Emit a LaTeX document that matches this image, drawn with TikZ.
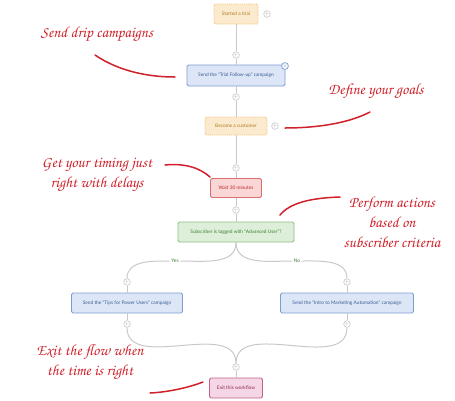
\documentclass[tikz,border=0pt]{standalone}
\usepackage[T1,TU]{fontenc}
\usepackage{fontspec}
\newfontfamily\boxfont{Lato}
\newcommand\handfont{\fontencoding{T1}\fontfamily{pzc}\fontseries{mb}\fontshape{it}\selectfont}
\definecolor{linegray}{HTML}{C8C8C8}
\definecolor{ink}{HTML}{D0202A}
\definecolor{trigfill}{HTML}{FCEACF}
\definecolor{trigline}{HTML}{EFBE6E}
\definecolor{trigtext}{HTML}{B07A20}
\definecolor{sendfill}{HTML}{DCE6F6}
\definecolor{sendline}{HTML}{7C9DD2}
\definecolor{sendtext}{HTML}{3A5C94}
\definecolor{waitfill}{HTML}{FBD6D6}
\definecolor{waitline}{HTML}{DE6E6E}
\definecolor{waittext}{HTML}{B82A2A}
\definecolor{condfill}{HTML}{DDEFD9}
\definecolor{condline}{HTML}{8CC182}
\definecolor{condtext}{HTML}{3E7E32}
\definecolor{exitfill}{HTML}{F5D6E6}
\definecolor{exitline}{HTML}{C2608C}
\definecolor{exittext}{HTML}{8E2858}
\tikzset{
  flowbox/.style={rounded corners=1.5pt, line width=0.9pt, inner sep=1pt,
    font=\boxfont\fontsize{4.8}{5}\selectfont},
  trigger/.style={flowbox, draw=trigline, fill=trigfill, text=trigtext, densely dotted},
  sendbox/.style={flowbox, draw=sendline, fill=sendfill, text=sendtext},
  waitbox/.style={flowbox, draw=waitline, fill=waitfill, text=waittext},
  condbox/.style={flowbox, draw=condline, fill=condfill, text=condtext},
  exitbox/.style={flowbox, draw=exitline, fill=exitfill, text=exittext},
  addpt/.style={circle, draw=linegray, fill=white, line width=0.6pt, minimum size=6.5pt,
    inner sep=0pt, text=gray!70, font=\fontsize{5}{5}\selectfont},
  conn/.style={draw=linegray, line width=1pt},
  branch/.style={font=\boxfont\fontsize{5}{5}\selectfont, text=condtext, fill=white, inner sep=1.5pt},
  note/.style={text=ink, align=center, font=\handfont\fontsize{15.5}{20}\selectfont},
  inkline/.style={draw=ink, line width=1.5pt, line cap=round}
}
\begin{document}
\begin{tikzpicture}[x=1pt, y=-1pt]
\useasboundingbox (0,0) rectangle (455,400);
% flow steps
\node[trigger, minimum width=44pt, minimum height=20pt] (trial) at (236,14) {Started a trial};
\node[addpt] (trialadd) at (267,14) {+};
\node[addpt] (p1) at (236,55) {+};
\node[sendbox, minimum width=98pt, minimum height=21pt] (drip) at (236,75.5) {Send the “Trial Follow-up” campaign};
\node[circle, draw=sendline, fill=white, line width=0.7pt, minimum size=6.5pt, inner sep=0pt,
  text=sendline, font=\fontsize{5}{5}\selectfont] (dripx) at (285,66) {$\times$};
\node[addpt] (p2) at (236,97) {+};
\node[trigger, minimum width=62pt, minimum height=18pt] (customer) at (236,126) {Become a customer};
\node[addpt] (custadd) at (275,126) {+};
\node[addpt] (p3) at (236,168) {+};
\node[waitbox, minimum width=51pt, minimum height=19pt] (wait) at (236,188) {Wait 30 minutes};
\node[addpt] (p4) at (236,210) {+};
\node[condbox, minimum width=116pt, minimum height=20pt] (cond) at (236,232) {Subscriber is tagged with “Advanced User”?};
\node[branch] (yes) at (175,261) {Yes};
\node[branch] (no) at (297,261) {No};
\node[addpt] (pl) at (127,282) {+};
\node[addpt] (pr) at (347,282) {+};
\node[sendbox, minimum width=111pt, minimum height=20pt] (tips) at (127,303) {Send the “Tips for Power Users” campaign};
\node[sendbox, minimum width=133pt, minimum height=20pt] (intro) at (347,303) {Send the “Intro to Marketing Automation” campaign};
\node[addpt] (ql) at (127,324) {+};
\node[addpt] (qr) at (347,324) {+};
\node[addpt] (pm) at (236,367) {+};
\node[exitbox, minimum width=53pt, minimum height=20pt] (exit) at (236,388) {Exit this workflow};
% connectors
\draw[conn] (trial) -- (p1);
\draw[conn] (p1) -- (drip);
\draw[conn] (drip) -- (p2);
\draw[conn] (p2) -- (customer);
\draw[conn] (customer) -- (p3);
\draw[conn] (p3) -- (wait);
\draw[conn] (wait) -- (p4);
\draw[conn] (p4) -- (cond);
\draw[conn] (cond.south) to[out=-90, in=0] (yes);
\draw[conn] (yes) to[out=180, in=90] (pl);
\draw[conn] (cond.south) to[out=-90, in=180] (no);
\draw[conn] (no) to[out=0, in=90] (pr);
\draw[conn] (pl) -- (tips);
\draw[conn] (pr) -- (intro);
\draw[conn] (tips) -- (ql);
\draw[conn] (intro) -- (qr);
\draw[conn] (ql) to[out=-90, in=90] (pm);
\draw[conn] (qr) to[out=-90, in=90] (pm);
\draw[conn] (pm) -- (exit);
% hand-written notes
\node[note] (dripnote) at (97,34) {Send drip campaigns};
\node[note] (goalnote) at (376,91) {Define your goals};
\node[note] (timenote) at (97,175) {Get your timing just\\right with delays};
\node[note] (actnote) at (392,222) {Perform actions\\based on\\subscriber criteria};
\node[note] (exitnote) at (90,362) {Exit the flow when\\the time is right};
\coordinate (n1a) at (95,55);
\coordinate (n1b) at (175,77);
\coordinate (n2a) at (370,112);
\coordinate (n2b) at (285,128);
\coordinate (n3a) at (165,165);
\coordinate (n3b) at (210,177);
\coordinate (n4a) at (340,197);
\coordinate (n4b) at (280,215);
\coordinate (n5a) at (150,393);
\coordinate (n5b) at (203,382);
\draw[inkline] (n1a) .. controls (120,72) and (150,77) .. (n1b);
\draw[inkline] (n2a) .. controls (345,125) and (310,128) .. (n2b);
\draw[inkline] (n3a) .. controls (185,163) and (200,168) .. (n3b);
\draw[inkline] (n4a) .. controls (310,198) and (290,203) .. (n4b);
\draw[inkline] (n5a) .. controls (170,392) and (190,387) .. (n5b);
\end{tikzpicture}
\end{document}
